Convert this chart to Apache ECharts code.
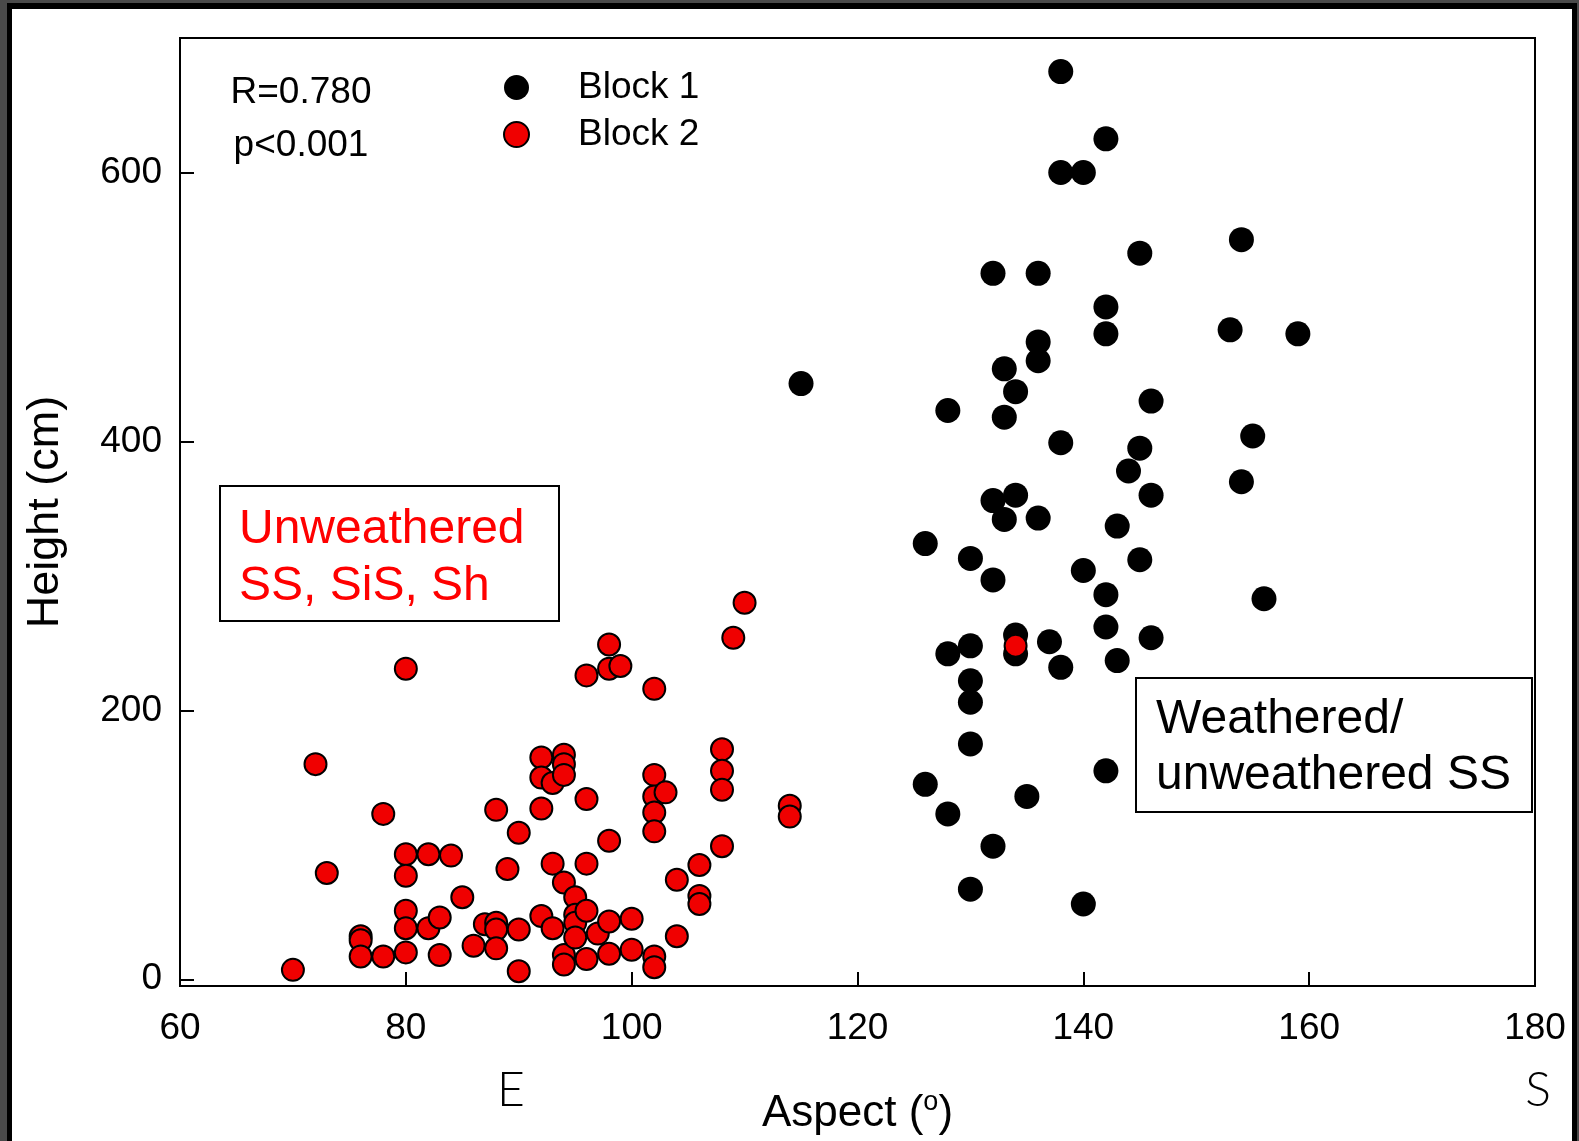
<!DOCTYPE html>
<html>
<head>
<meta charset="utf-8">
<script src="https://cdn.jsdelivr.net/npm/echarts@6/dist/echarts.min.js"></script>
<style>
  html, body { margin: 0; padding: 0; background: #ffffff; }
  #chart { width: 1579px; height: 1141px; }
</style>
</head>
<body>
<div id="chart"></div>
<script>
// Block 1: weathered / unweathered sandstone faces
const block1Aspect = [138, 142, 138, 140, 154, 145, 132, 136, 142, 153, 159, 142, 136, 136, 133, 134, 146, 128, 133,
  155, 138, 145, 144, 154, 134, 146, 132, 136, 133, 143, 126, 130, 145, 140, 132, 142, 156, 142, 134, 134,
  137, 146, 130, 128, 138, 143, 130, 130, 130, 142, 126, 135, 128, 132, 130, 140, 115];
const block1Height = [675, 625, 600, 600, 550, 540, 525, 525, 500, 483, 480, 480, 474, 460, 454, 437, 430, 423, 418,
  404, 399, 395, 378, 370, 360, 360, 356, 343, 342, 337, 324, 313, 312, 304, 297, 286, 283, 262, 256, 242,
  251, 254, 248, 242, 232, 237, 222, 206, 175, 155, 145, 136, 123, 99, 67, 56, 443];

// Block 2: unweathered SS, SiS, Sh faces
const block2Aspect = [70, 72, 73, 76, 76, 76, 78, 78, 80, 80, 80, 80, 80, 80, 82, 82, 83, 83, 84, 85, 86, 87,
  88, 88, 88, 88, 89, 90, 90, 90, 92, 92, 92, 92, 93, 93, 93, 94, 94, 94, 94, 94, 94, 95, 95, 95, 95,
  96, 96, 96, 96, 96, 97, 98, 98, 98, 98, 98, 99, 100, 100, 102, 102, 102, 102, 102, 102, 102, 103,
  104, 104, 106, 106, 106, 108, 108, 108, 108, 109, 110, 114, 114, 134];
const block2Height = [7, 160, 79, 32, 29, 17, 123, 17, 231, 93, 77, 51, 38, 20, 93, 38, 46, 18, 92, 61, 25, 41,
  126, 42, 37, 23, 82, 109, 37, 6, 165, 150, 127, 47, 146, 86, 38, 167, 160, 152, 72, 18, 11, 61, 48, 42, 31,
  226, 134, 86, 51, 15, 34, 249, 231, 103, 43, 19, 233, 45, 22, 216, 152, 136, 124, 110, 17, 9, 139,
  74, 32, 85, 62, 56, 171, 155, 141, 99, 254, 280, 129, 121, 248];

const yTickValues = [0, 200, 400, 600];

const FONT = '"Liberation Sans", Arial, Helvetica, sans-serif';
const LIGHT_FONT = 'Lato, "Open Sans", "Noto Sans", sans-serif';

const pairs = (xs, ys) => xs.map((x, i) => [x, ys[i]]);

const chart = echarts.init(document.getElementById('chart'), null, { renderer: 'canvas' });

chart.setOption({
  backgroundColor: '#ffffff',
  animation: false,
  textStyle: { fontFamily: FONT },
  grid: {
    left: 180, right: 44, top: 38, bottom: 150,
    show: true, borderColor: '#000', borderWidth: 2, backgroundColor: 'transparent'
  },
  legend: {
    orient: 'vertical',
    left: 498, top: 64,
    itemWidth: 25, itemHeight: 25, itemGap: 10,
    icon: 'circle',
    selectedMode: false,
    textStyle: { fontFamily: FONT, fontSize: 37, color: '#000', lineHeight: 37, padding: [0, 0, 0, 44] },
    data: ['Block 1', 'Block 2']
  },
  xAxis: {
    type: 'value',
    min: 60, max: 180, interval: 20,
    axisLine: { show: true, onZero: false, lineStyle: { color: '#000', width: 2 } },
    axisTick: { show: true, inside: true, length: 14, lineStyle: { color: '#000', width: 2 } },
    axisLabel: { color: '#000', fontFamily: FONT, fontSize: 37, margin: 24 },
    splitLine: { show: false },
    name: '{t|Aspect (}{s|o}{t|)}',
    nameLocation: 'middle',
    nameGap: 103,
    nameTextStyle: {
      rich: {
        t: { fontFamily: FONT, fontSize: 44, color: '#000', lineHeight: 50 },
        s: { fontFamily: FONT, fontSize: 27, color: '#000', lineHeight: 27, verticalAlign: 'top' }
      }
    }
  },
  yAxis: {
    type: 'value',
    min: -5, max: 700,
    axisLine: { show: true, onZero: false, lineStyle: { color: '#000', width: 2 } },
    axisTick: { show: true, inside: true, length: 14, customValues: yTickValues, lineStyle: { color: '#000', width: 2 } },
    axisLabel: { color: '#000', fontFamily: FONT, fontSize: 37, margin: 18, customValues: yTickValues },
    splitLine: { show: false },
    name: 'Height (cm)',
    nameLocation: 'middle',
    nameRotate: 90,
    nameGap: 112,
    nameTextStyle: { fontFamily: FONT, fontSize: 45, color: '#000' }
  },
  series: [
    {
      type: 'scatter',
      name: 'Block 1',
      data: pairs(block1Aspect, block1Height),
      symbol: 'circle',
      symbolSize: 25,
      itemStyle: { color: '#000000', opacity: 1 },
      emphasis: { disabled: true },
      z: 2
    },
    {
      type: 'scatter',
      name: 'Block 2',
      data: pairs(block2Aspect, block2Height),
      symbol: 'circle',
      symbolSize: 22,
      itemStyle: { color: '#f00000', borderColor: '#000000', borderWidth: 2, opacity: 1 },
      emphasis: { disabled: true },
      z: 3
    }
  ],
  graphic: [
    // picture frame
    { type: 'rect', silent: true, z: -100, shape: { x: 0, y: 0, width: 1579, height: 1141 }, style: { fill: '#4a4a4a' } },
    { type: 'rect', silent: true, z: -99, shape: { x: 7, y: 3, width: 1570, height: 1138 }, style: { fill: '#000000' } },
    { type: 'rect', silent: true, z: -98, shape: { x: 12, y: 9, width: 1560, height: 1132 }, style: { fill: '#ffffff' } },

    // statistics
    { type: 'text', silent: true, z: 50, style: { x: 301, y: 93, text: 'R=0.780', font: '37px ' + FONT, fill: '#000', align: 'center', verticalAlign: 'middle' } },
    { type: 'text', silent: true, z: 50, style: { x: 301, y: 146, text: 'p<0.001', font: '37px ' + FONT, fill: '#000', align: 'center', verticalAlign: 'middle' } },

    // lithology boxes
    { type: 'rect', silent: true, z: 50, shape: { x: 220, y: 486, width: 339, height: 135 }, style: { fill: '#ffffff', stroke: '#000', lineWidth: 2 } },
    { type: 'text', silent: true, z: 51, style: { x: 239, y: 501, text: 'Unweathered\nSS, SiS, Sh', font: '48px ' + FONT, lineHeight: 57, fill: '#ff0000', align: 'left', verticalAlign: 'top' } },
    { type: 'rect', silent: true, z: 50, shape: { x: 1136, y: 678, width: 396, height: 134 }, style: { fill: '#ffffff', stroke: '#000', lineWidth: 2 } },
    { type: 'text', silent: true, z: 51, style: { x: 1156, y: 692, text: 'Weathered/\nunweathered SS', font: '48px ' + FONT, lineHeight: 56, fill: '#000', align: 'left', verticalAlign: 'top' } },

    // compass directions under the aspect axis
    { type: 'text', silent: true, z: 50, style: { x: 511, y: 1091, text: 'E', font: '300 48px ' + LIGHT_FONT, fill: '#000', align: 'center', verticalAlign: 'middle' } },
    { type: 'text', silent: true, z: 50, style: { x: 1538, y: 1091, text: 'S', font: '300 48px ' + LIGHT_FONT, fill: '#000', align: 'center', verticalAlign: 'middle' } }
  ]
});
</script>
</body>
</html>
